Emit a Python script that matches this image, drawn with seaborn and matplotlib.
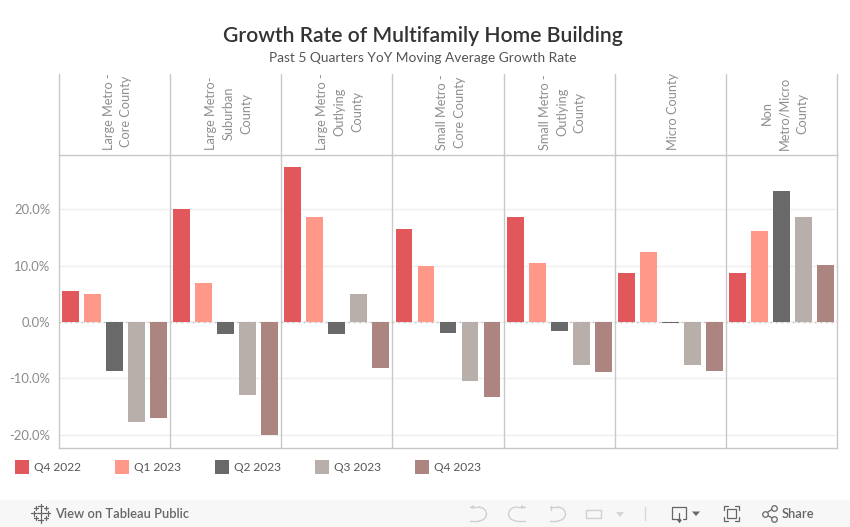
import matplotlib
matplotlib.use("Agg")
import matplotlib.pyplot as plt
import pandas as pd
import seaborn as sns
from matplotlib.patches import Arc, Polygon, Rectangle

W, H = 850, 527

counties = [
    "Large Metro -\nCore County",
    "Large Metro-\nSuburban\nCounty",
    "Large Metro -\nOutlying\nCounty",
    "Small Metro -\nCore County",
    "Small Metro -\nOutlying\nCounty",
    "Micro County",
    "Non\nMetro/Micro\nCounty",
]
quarters = ["Q4 2022", "Q1 2023", "Q2 2023", "Q3 2023", "Q4 2023"]
q4_2022 = [5.5, 20.0, 27.5, 16.5, 18.6, 8.7, 8.7]
q1_2023 = [5.0, 6.9, 18.6, 10.0, 10.5, 12.4, 16.2]
q2_2023 = [-8.7, -2.1, -2.1, -2.0, -1.6, -0.2, 23.3]
q3_2023 = [-17.7, -12.9, 5.0, -10.4, -7.6, -7.6, 18.6]
q4_2023 = [-17.0, -20.0, -8.2, -13.3, -8.8, -8.7, 10.2]
colors = ["#e1575c", "#ff9888", "#696969", "#b8afaa", "#ac8580"]
y_ticks = [-20, -10, 0, 10, 20]

GRID = "#c8c8c8"
sns.set_theme(style="white")
plt.rcParams["font.family"] = ["Lato", "DejaVu Sans"]

LEFT, RIGHT = 59, 837


def frac_x(px):
    return px / W


def frac_y(px):
    return 1 - px / H


df = pd.DataFrame({
    "county": counties * 5,
    "quarter": [q for q in quarters for _ in counties],
    "value": q4_2022 + q1_2023 + q2_2023 + q3_2023 + q4_2023,
})

fig = plt.figure(figsize=(W / 100, H / 100), dpi=100)
ax = fig.add_axes([frac_x(LEFT), frac_y(448), (RIGHT - LEFT) / W, (448 - 154.5) / H])

sns.barplot(
    data=df, x="county", y="value", hue="quarter", order=counties, hue_order=quarters,
    palette=colors, saturation=1, width=0.99, gap=0.23, legend=False, ax=ax, zorder=3,
    linewidth=0, edgecolor="none",
)
ax.set_xlim(-0.5, 6.5)
# 0 at y=322, 10% is 56.3 px
ax.set_ylim((322 - 448) / 5.63, (322 - 154.5) / 5.63)
ax.set_xlabel("")
ax.set_ylabel("")
ax.set_xticks([])
ax.set_yticks(y_ticks)
ax.set_yticklabels([f"{t:.1f}%" for t in y_ticks], color="#8a8a8a", fontsize=9.4)
ax.tick_params(axis="y", length=0, pad=6)
ax.grid(axis="y", color="#efefef", linewidth=1, zorder=0)
ax.set_axisbelow(True)
ax.axhline(0, color="#bdbdbd", linewidth=1, linestyle=(0, (1, 3)), zorder=1)
for spine in ax.spines.values():
    spine.set_color(GRID)
    spine.set_linewidth(1)
for i in range(1, 7):
    ax.axvline(i - 0.5, color=GRID, linewidth=1, zorder=2)

# overlay in pixel coordinates for header, legend and toolbar
ov = fig.add_axes([0, 0, 1, 1], zorder=-1)
ov.set_xlim(0, W)
ov.set_ylim(H, 0)
ov.axis("off")

panel_w = (RIGHT - LEFT) / 7
for i in range(8):
    x = LEFT + i * panel_w
    ov.plot([x, x], [74, 155], color=GRID, lw=1)

for i, name in enumerate(counties):
    cx = LEFT + (i + 0.5) * panel_w
    ov.text(cx + 3, 150, name, rotation=90, ha="center", va="bottom", ma="center",
            fontsize=9.2, color="#8f8f8f", linespacing=1.55)

ov.text(423, 35.5, "Growth Rate of Multifamily Home Building", ha="center", va="center",
        fontsize=15.2, fontweight="semibold", color="#333333")
ov.text(423, 57.5, "Past 5 Quarters YoY Moving Average Growth Rate", ha="center", va="center",
        fontsize=9.95, color="#555555")

# legend
for i, (q, c) in enumerate(zip(quarters, colors)):
    x = 15 + i * 100
    ov.add_patch(Rectangle((x, 460), 14, 14, color=c, lw=0))
    ov.text(x + 19, 467.5, q, va="center", fontsize=8.6, color="#555555")

# toolbar
ov.add_patch(Rectangle((0, 500), W, 27, color="#f7f7f7", lw=0))
ov.text(55, 513.5, "View on Tableau Public", va="center", fontsize=9.3,
        fontweight="semibold", color="#666666")
ov.text(782, 513.5, "Share", va="center", fontsize=9.3, fontweight="semibold", color="#666666")

# tableau logo
for dx, dy, s in [(0, 0, 4), (-7, 0, 2.5), (7, 0, 2.5), (0, -7, 2.5), (0, 7, 2.5),
                  (-5, -5, 2), (5, -5, 2), (-5, 5, 2), (5, 5, 2)]:
    ov.plot([41 + dx - s, 41 + dx + s], [513 + dy, 513 + dy], color="#666666", lw=0.9)
    ov.plot([41 + dx, 41 + dx], [513 + dy - s, 513 + dy + s], color="#666666", lw=0.9)

# undo / redo / revert / refresh icons
ICON = "#cfcfcf"
ov.add_patch(Arc((478, 514), 17, 14, theta1=-90, theta2=90, color=ICON, lw=1))
ov.plot([470, 478], [507, 507], color=ICON, lw=1)
ov.plot([470, 478], [521, 521], color=ICON, lw=1)
ov.add_patch(Polygon([[470, 507], [474, 505], [474, 509]], color=ICON, lw=0))
ov.add_patch(Arc((517, 514), 17, 14, theta1=90, theta2=270, color=ICON, lw=1))
ov.plot([517, 525], [507, 507], color=ICON, lw=1)
ov.plot([517, 525], [521, 521], color=ICON, lw=1)
ov.add_patch(Polygon([[525, 507], [521, 505], [521, 509]], color=ICON, lw=0))
ov.add_patch(Arc((557, 514), 17, 14, theta1=-90, theta2=90, color=ICON, lw=1))
ov.plot([550, 557], [507, 507], color=ICON, lw=1)
ov.plot([550, 557], [521, 521], color=ICON, lw=1)
ov.plot([551, 551], [506, 510], color=ICON, lw=1)
ov.add_patch(Rectangle((586, 510), 15, 8, fill=False, ec=ICON, lw=1))
ov.add_patch(Polygon([[616, 512], [624, 512], [620, 517]], color="#d5d5d5", lw=0))
ov.plot([645.5, 645.5], [507, 520], color="#d8d8d8", lw=1)

# download, fullscreen and share icons
DARK = "#666666"
ov.plot([680, 672, 672, 686, 686, 683], [519, 519, 507, 507, 519, 519], color=DARK, lw=0.9)
ov.plot([679.5, 679.5], [513, 522], color=DARK, lw=0.9)
ov.add_patch(Polygon([[677, 520], [682, 520], [679.5, 523]], color=DARK, lw=0))
ov.add_patch(Polygon([[692, 511.5], [700, 511.5], [696, 516]], color=DARK, lw=0))
ov.add_patch(Rectangle((727, 509), 9, 9, fill=False, ec=DARK, lw=0.9))
for xs, ys in [([724, 724, 728], [510, 506, 506]), ([735, 739, 739], [506, 506, 510]),
               ([724, 724, 728], [517, 521, 521]), ([735, 739, 739], [521, 521, 517])]:
    ov.plot(xs, ys, color=DARK, lw=0.9)
ov.plot([774, 765, 774], [508, 514, 519], color=DARK, lw=0.9)
for cx, cy in [(774, 508), (765, 514), (774, 519)]:
    ov.plot([cx], [cy], "o", ms=4, mfc="#f7f7f7", mec=DARK, mew=0.9)

fig.savefig("out.png", dpi=100, facecolor="white")
